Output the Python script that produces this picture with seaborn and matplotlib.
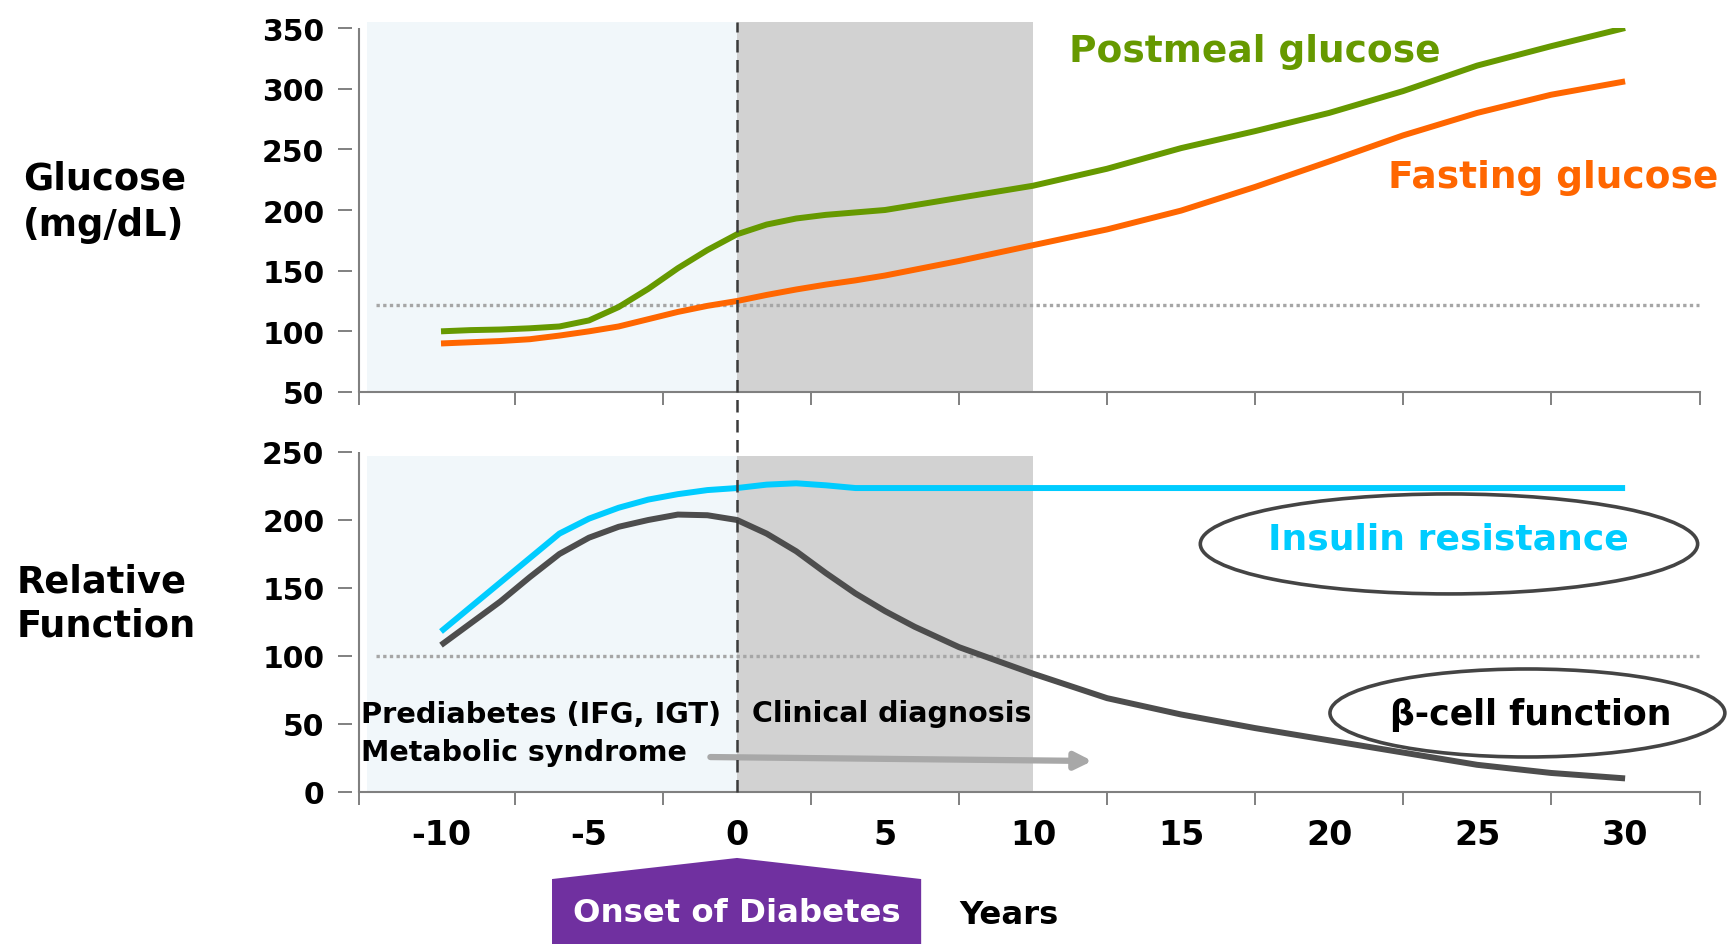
import matplotlib
matplotlib.use("Agg")
import matplotlib.pyplot as plt
import seaborn as sns
from matplotlib.patches import Ellipse, Polygon

# ---------------- data ----------------
glucose_years = [-10, -9, -8, -7, -6, -5, -4, -3, -2, -1, 0, 1, 2, 3, 4, 5,
                 7.5, 10, 12.5, 15, 17.5, 20, 22.5, 25, 27.5, 30]
postmeal_glucose = [100, 101, 101.5, 102.5, 104, 109, 120, 135, 152, 167, 180, 188, 193, 196, 198, 200,
                    210, 220, 234, 251, 265, 280, 298, 319, 335, 350]
fasting_glucose = [90, 91, 92, 93.5, 96.5, 100, 104, 110, 116, 121, 125, 130, 134.5, 138.5, 142, 146,
                   158, 171, 184, 199.5, 219, 240, 261.5, 280, 295, 306]

function_years = [-10, -9, -8, -7, -6, -5, -4, -3, -2, -1, 0, 1, 2, 3, 4, 5, 6,
                  7.5, 10, 12.5, 15, 17.5, 20, 22.5, 25, 27.5, 30]
insulin_resistance = [118, 136, 154, 172, 190, 201, 209, 215, 219, 222, 223.5, 226, 227, 225.5, 223.5, 223.5, 223.5,
                      223.5, 223.5, 223.5, 223.5, 223.5, 223.5, 223.5, 223.5, 223.5, 223.5]
beta_cell_function = [108, 124, 140, 158, 175, 187, 195, 200, 204, 203.5, 200, 190, 177, 161, 146, 133, 121.5,
                      106.5, 87, 69, 57, 47, 38, 29, 20, 14, 10]

glucose_ticks = [50, 100, 150, 200, 250, 300, 350]
function_ticks = [0, 50, 100, 150, 200, 250]
year_ticks = [-10, -5, 0, 5, 10, 15, 20, 25, 30]
glucose_threshold = 122
function_threshold = 100

# ---------------- style ----------------
sns.set_theme(style="white")
plt.rcParams["font.family"] = ["DejaVu Sans"]
plt.rcParams["font.weight"] = "bold"
plt.rcParams["text.color"] = "black"
plt.rcParams["lines.solid_capstyle"] = "butt"

GREEN = "#669900"
ORANGE = "#FF6600"
CYAN = "#00CCFF"
DARK = "#4D4D4D"
SPINE = "#808080"
LIGHT_BLUE = "#F1F7FA"
GRAY_BAND = "#D2D2D2"
DOT = "#A6A6A6"
LW = 4.3

W, H = 1729, 945
fig = plt.figure(figsize=(W / 100, H / 100), dpi=100)


def rect(x0, y0, x1, y1):
    return [x0 / W, 1 - y1 / H, (x1 - x0) / W, (y1 - y0) / H]


ax_top = fig.add_axes(rect(359, 29, 1700, 393))
ax_bot = fig.add_axes(rect(359, 453, 1700, 793))

XLIM = (-12.77, 32.53)
minor_x = [XLIM[0], -7.5, -2.5, 2.5, 7.5, 12.5, 17.5, 22.5, 27.5, XLIM[1]]

for ax in (ax_top, ax_bot):
    ax.set_facecolor("white")
    ax.set_xlim(*XLIM)
    for s in ("top", "right"):
        ax.spines[s].set_visible(False)
    ax.spines["left"].set_position(("outward", 5))
    ax.spines["left"].set_visible(False)
    ax.spines["bottom"].set_color(SPINE)
    ax.spines["bottom"].set_linewidth(1.5)
    ax.axvline(XLIM[0], color=SPINE, lw=1.5, clip_on=False, zorder=6)
    ax.tick_params(axis="y", direction="out", length=10, width=1.4, color=SPINE,
                   pad=10, labelsize=21.5, labelcolor="black", left=True)
    ax.set_xticks(minor_x, minor=True)
    ax.tick_params(axis="x", which="minor", direction="out", length=9, width=1.4,
                   color=SPINE, bottom=True)
    ax.grid(False)

# ---------------- top panel: glucose ----------------
ax_top.set_ylim(50, 350)
ax_top.set_yticks(glucose_ticks)
ax_top.set_xticks([])
ax_top.axvspan(-12.5, 0, ymin=0, ymax=1.017, color=LIGHT_BLUE, lw=0, zorder=0, clip_on=False)
ax_top.axvspan(0, 10, ymin=0, ymax=1.017, color=GRAY_BAND, lw=0, zorder=0, clip_on=False)
ax_top.hlines(glucose_threshold, -12.2, 32.5, colors=DOT, linestyles=(0, (1, 1)), lw=2.4, zorder=1)
sns.lineplot(x=glucose_years, y=postmeal_glucose, ax=ax_top, color=GREEN, lw=LW, zorder=3)
sns.lineplot(x=glucose_years, y=fasting_glucose, ax=ax_top, color=ORANGE, lw=LW, zorder=3)
ax_top.set_xlabel("")
ax_top.set_ylabel("")
ax_top.text(11.2, 322.8, "Postmeal glucose", color=GREEN, fontsize=27, ha="left", va="baseline")
ax_top.text(22.0, 218.9, "Fasting glucose", color=ORANGE, fontsize=27, ha="left", va="baseline")

# ---------------- bottom panel: relative function ----------------
ax_bot.set_ylim(0, 250)
ax_bot.set_yticks(function_ticks)
ax_bot.set_xticks(year_ticks)
ax_bot.set_xticklabels([str(v) for v in year_ticks])
ax_bot.tick_params(axis="x", which="major", length=0, pad=19, labelsize=24, labelcolor="black")
ax_bot.axvspan(-12.5, 0, ymin=0, ymax=247 / 250, color=LIGHT_BLUE, lw=0, zorder=0)
ax_bot.axvspan(0, 10, ymin=0, ymax=247 / 250, color=GRAY_BAND, lw=0, zorder=0)
ax_bot.hlines(function_threshold, -12.2, 32.5, colors=DOT, linestyles=(0, (1, 1)), lw=2.4, zorder=1)
sns.lineplot(x=function_years, y=insulin_resistance, ax=ax_bot, color=CYAN, lw=LW, zorder=3)
sns.lineplot(x=function_years, y=beta_cell_function, ax=ax_bot, color=DARK, lw=LW, zorder=3)
ax_bot.set_xlabel("")
ax_bot.set_ylabel("")

# onset dashed line spanning both panels
ax_bot.axvline(0, ymin=0, ymax=(793 - 23) / 340, color="#3A3A3A", lw=1.8,
               ls=(0, (5, 3)), clip_on=False, zorder=8)

# annotations in the bottom panel
ax_bot.text(-12.7, 51.2, "Prediabetes (IFG, IGT)", fontsize=20.8, ha="left", va="baseline")
ax_bot.text(-12.7, 23.8, "Metabolic syndrome", fontsize=20.5, ha="left", va="baseline")
ax_bot.text(0.5, 52.4, "Clinical diagnosis", fontsize=20.5, ha="left", va="baseline")
ax_bot.annotate("", xy=(12.0, 22.8), xytext=(-0.9, 25.7),
                arrowprops=dict(arrowstyle="-|>,head_length=0.5,head_width=0.25", color="#A8A8A8",
                                lw=4.5, shrinkA=0, shrinkB=0, mutation_scale=20), zorder=4)

ax_bot.add_patch(Ellipse((24.05, 182.4), width=16.8, height=73.5, fill=False,
                         ec="#444444", lw=2.6, clip_on=False, zorder=5))
ax_bot.text(24.02, 179.4, "Insulin resistance", color=CYAN, fontsize=26, ha="center", va="baseline")
ax_bot.add_patch(Ellipse((26.7, 58.1), width=13.34, height=64.7, fill=False,
                         ec="#444444", lw=2.6, clip_on=False, zorder=5))
ax_bot.text(26.8, 50, "β-cell function", color="black", fontsize=25, ha="center", va="baseline")

# onset of diabetes marker below the axis
ax_bot.add_patch(Polygon([(-6.25, -112), (-6.25, -64), (0, -48.5), (6.22, -64), (6.22, -112)],
                         closed=True, fc="#7030A0", ec="none", clip_on=False, zorder=5))
ax_bot.text(0, -94.6, "Onset of Diabetes", color="white", fontsize=23.3, ha="center", va="baseline", zorder=6)
ax_bot.text(9.2, -96.5, "Years", fontsize=23.3, ha="center", va="baseline")

# y-axis titles
fig.text(23 / W, 1 - 202.5 / H, "Glucose\n(mg/dL)", fontsize=26.5, ha="left", va="center",
         linespacing=1.32)
fig.text(17 / W, 1 - 604 / H, "Relative\nFunction", fontsize=26.5, ha="left", va="center",
         linespacing=1.25)

fig.savefig("out.png", dpi=100, facecolor="white")
